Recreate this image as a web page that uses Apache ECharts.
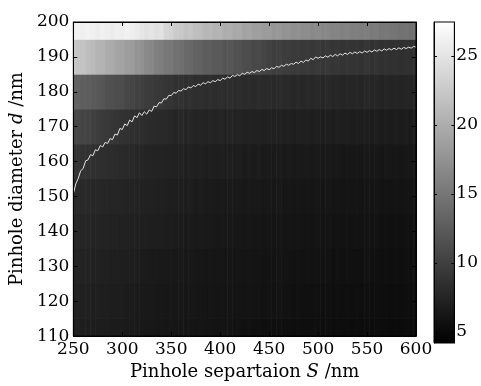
<!DOCTYPE html>
<html><head><meta charset="utf-8">
<script src="https://cdn.jsdelivr.net/npm/echarts@6/dist/echarts.min.js"></script>
<style>html,body{margin:0;padding:0;background:#fff}#c{width:481px;height:386px}</style>
</head><body><div id="c"></div>
<script>
// Pinhole separation S (nm), column centres
const separations = [250,255,260,265,270,275,280,285,290,295,300,305,310,315,320,325,330,335,340,345,
  350,355,360,365,370,375,380,385,390,395,400,405,410,415,420,425,430,435,440,445,
  450,455,460,465,470,475,480,485,490,495,500,505,510,515,520,525,530,535,540,545,
  550,555,560,565,570,575,580,585,590,595,600];
// Pinhole diameter d (nm), row centres
const diameters = [110,120,130,140,150,160,170,180,190,200];

const row110 = [7.0,7.1,6.9,6.9,6.9,6.8,6.8,6.8,6.7,6.7, 6.7,6.6,6.6,6.5,6.5,6.4,6.4,6.3,6.3,6.2,
  6.3,6.2,6.2,6.1,6.1,6.0,6.1,6.0,6.0,5.9, 5.9,5.9,5.9,5.8,5.8,5.7,5.8,5.7,5.7,5.6,
  5.7,5.6,5.7,5.6,5.6,5.5,5.6,5.5,5.5,5.5, 5.5,5.4,5.5,5.4,5.5,5.4,5.4,5.3,5.4,5.3,
  5.4,5.3,5.4,5.3,5.3,5.2,5.3,5.2,5.3,5.2, 5.3];
const row120 = [7.2,7.3,7.1,7.1,7.0,7.0,6.9,6.9,6.8,6.8, 6.8,6.7,6.7,6.6,6.6,6.5,6.5,6.4,6.4,6.3,
  6.4,6.3,6.3,6.2,6.3,6.2,6.2,6.1,6.2,6.1, 6.1,6.0,6.1,6.0,6.0,5.9,6.0,5.9,5.9,5.8,
  5.9,5.8,5.9,5.8,5.8,5.7,5.8,5.7,5.7,5.7, 5.7,5.6,5.7,5.6,5.7,5.6,5.6,5.5,5.6,5.5,
  5.6,5.5,5.6,5.5,5.5,5.4,5.5,5.4,5.5,5.4, 5.5];
const row130 = [7.4,7.5,7.3,7.3,7.2,7.2,7.1,7.1,7.0,7.0, 6.9,6.9,6.8,6.8,6.7,6.7,6.6,6.6,6.5,6.5,
  6.5,6.4,6.5,6.3,6.4,6.3,6.3,6.2,6.3,6.2, 6.2,6.1,6.2,6.1,6.1,6.0,6.1,6.0,6.0,5.9,
  6.0,5.9,6.0,5.9,5.9,5.8,5.9,5.8,5.9,5.8, 5.8,5.8,5.8,5.7,5.8,5.7,5.8,5.7,5.7,5.7,
  5.8,5.7,5.7,5.6,5.7,5.6,5.7,5.6,5.7,5.6, 5.7];
const row140 = [7.7,7.8,7.6,7.6,7.5,7.5,7.4,7.4,7.3,7.3, 7.2,7.2,7.1,7.1,7.0,7.0,6.9,6.9,6.9,6.8,
  6.8,6.7,6.7,6.6,6.7,6.5,6.6,6.5,6.5,6.4, 6.4,6.3,6.4,6.3,6.3,6.2,6.3,6.2,6.2,6.1,
  6.2,6.1,6.2,6.0,6.1,6.0,6.1,6.0,6.0,5.9, 6.0,5.9,6.0,5.9,5.9,5.8,5.9,5.8,5.9,5.8,
  5.9,5.8,5.9,5.7,5.8,5.7,5.8,5.7,5.8,5.7, 5.8];
const row150 = [8.0,8.1,7.9,7.9,7.8,7.8,7.7,7.7,7.6,7.6, 7.5,7.4,7.4,7.3,7.3,7.2,7.2,7.1,7.1,7.0,
  6.9,6.9,6.9,6.8,6.9,6.7,6.8,6.7,6.7,6.6, 6.6,6.5,6.6,6.5,6.5,6.4,6.5,6.4,6.4,6.3,
  6.4,6.3,6.4,6.2,6.3,6.2,6.3,6.2,6.2,6.1, 6.2,6.1,6.2,6.1,6.1,6.0,6.1,6.0,6.1,6.0,
  6.1,6.0,6.1,5.9,6.0,5.9,6.0,5.9,6.0,5.9, 6.0];
const row160 = [8.9,9.0,8.8,8.7,8.6,8.5,8.4,8.3,8.2,8.1, 8.0,7.9,7.9,7.7,7.7,7.5,7.5,7.4,7.4,7.3,
  7.3,7.2,7.3,7.1,7.2,7.0,7.1,6.9,7.0,6.9, 6.9,6.8,6.9,6.8,6.9,6.7,6.8,6.7,6.8,6.6,
  6.7,6.6,6.7,6.5,6.7,6.5,6.6,6.5,6.6,6.4, 6.5,6.4,6.5,6.4,6.5,6.3,6.4,6.3,6.4,6.3,
  6.4,6.3,6.4,6.2,6.4,6.3,6.3,6.2,6.3,6.2, 6.3];
const row170 = [10.6,10.7,10.4,10.3,10.0,9.8,9.6,9.4,9.1,9.0, 8.8,8.7,8.5,8.4,8.3,8.2,8.1,8.0,7.9,7.9,
  7.8,7.6,7.8,7.6,7.7,7.5,7.6,7.5,7.6,7.4, 7.5,7.3,7.5,7.3,7.4,7.2,7.3,7.2,7.3,7.1,
  7.2,7.1,7.2,7.0,7.2,7.0,7.1,7.0,7.1,6.9, 7.0,6.9,7.0,6.8,7.0,6.9,6.9,6.8,6.9,6.8,
  6.8,6.7,6.9,6.7,6.8,6.7,6.8,6.7,6.8,6.6, 6.8];
const row180 = [13.0,13.1,12.8,12.7,12.4,12.2,12.0,11.6,11.5,11.2, 11.1,10.6,10.5,10.1,10.0,9.7,9.6,9.3,9.3,9.0,
  9.0,8.7,8.8,8.5,8.7,8.4,8.5,8.3,8.5,8.2, 8.4,8.2,8.3,8.1,8.3,8.1,8.2,8.0,8.2,8.0,
  8.1,7.9,8.1,7.9,8.0,7.8,8.0,7.8,7.9,7.8, 7.9,7.7,7.9,7.7,7.8,7.6,7.8,7.6,7.8,7.6,
  7.8,7.6,7.7,7.5,7.7,7.5,7.6,7.5,7.6,7.5, 7.6];
const row190 = [22.5,22.1,22.0,21.4,21.2,20.6,20.5,19.9,19.8,19.2, 19.1,18.5,18.4,17.7,17.5,16.8,16.6,15.9,15.7,15.1,
  15.1,14.5,14.3,13.8,13.7,13.2,13.1,12.7,12.7,12.3, 12.3,11.9,12.0,11.6,11.6,11.2,11.2,10.8,10.9,10.5,
  10.1,9.8,10.0,9.7,9.8,9.5,9.6,9.3,9.5,9.2, 9.4,9.1,9.3,9.0,9.2,8.9,9.1,8.9,9.0,8.8,
  9.0,8.7,8.9,8.6,8.8,8.6,8.7,8.5,8.7,8.5, 8.6];
const row200 = [25.9,26.2,26.0,26.3,26.1,25.8,26.2,26.0,25.7,26.1, 25.9,26.3,26.0,25.6,25.2,24.8,25.1,24.6,24.9,23.7,
  23.4,22.7,22.5,22.0,22.2,21.6,21.4,20.9,21.0,20.5, 20.6,20.0,20.1,19.6,19.7,19.1,19.2,18.7,18.8,18.3,
  18.4,17.9,18.1,17.6,17.7,17.2,17.4,17.0,17.1,16.7, 16.9,16.5,16.6,16.2,16.3,15.9,16.1,15.8,15.9,15.6,
  15.7,15.3,15.4,15.0,15.2,14.9,14.9,14.6,14.7,14.4, 14.5];
const rows = [row110,row120,row130,row140,row150,row160,row170,row180,row190,row200];

// White curve (optimum diameter vs separation)
const lineS = [250,252.5,255,257.5,260,262.5,265,267.5,270,272.5,275,277.5,280,282.5,285,287.5,290,292.5,295,297.5,
  300,302.5,305,307.5,310,312.5,315,317.5,320,322.5,325,327.5,330,332.5,335,337.5,340,342.5,345,347.5,
  350,352.5,355,357.5,360,362.5,365,367.5,370,372.5,375,377.5,380,382.5,385,387.5,390,392.5,395,397.5,
  400,402.5,405,407.5,410,412.5,415,417.5,420,422.5,425,427.5,430,432.5,435,437.5,440,442.5,445,447.5,
  450,452.5,455,457.5,460,462.5,465,467.5,470,472.5,475,477.5,480,482.5,485,487.5,490,492.5,495,497.5,
  500,502.5,505,507.5,510,512.5,515,517.5,520,522.5,525,527.5,530,532.5,535,537.5,540,542.5,545,547.5,
  550,552.5,555,557.5,560,562.5,565,567.5,570,572.5,575,577.5,580,582.5,585,587.5,590,592.5,595,597.5,600];
const lineD = [150.8,153.6,155.2,157.4,158.0,160.2,160.5,162.0,161.7,163.4,163.1,164.6,164.2,165.5,165.2,166.6,166.3,167.9,167.6,169.5,
  169.2,170.8,170.3,171.9,171.4,173.1,172.6,174.0,173.2,174.3,173.6,174.8,174.4,175.9,175.7,176.9,176.8,178.0,177.9,179.0,
  178.9,179.8,179.6,180.4,180.2,180.9,180.6,181.4,181.1,181.8,181.5,182.2,181.9,182.6,182.3,182.9,182.6,183.2,182.9,183.5,
  183.2,183.9,183.6,184.3,183.9,184.7,184.4,184.9,184.6,185.3,185.0,185.6,185.3,185.8,185.5,186.1,185.8,186.4,186.1,186.7,
  186.3,186.9,186.6,187.3,187.0,187.6,187.3,187.9,187.6,188.1,187.9,188.5,188.1,188.8,188.4,189.1,188.8,189.6,189.2,190.0,
  189.6,190.0,189.7,190.3,189.9,190.5,190.1,190.7,190.3,190.9,190.5,191.1,190.7,191.3,190.9,191.4,191.0,191.5,191.1,191.7,
  191.3,191.8,191.4,192.0,191.6,192.1,191.7,192.3,191.9,192.4,192.0,192.5,192.1,192.6,192.2,192.7,192.4,192.8,192.5,193.0,192.8];

const colorRange = [4.2, 27.45];
const colorTicks = [5, 10, 15, 20, 25];
const xRange = [250, 600];
const yRange = [110, 200];
const cellHalfW = 2.5, cellHalfH = 5;

const cells = [];
rows.forEach((r, i) => r.forEach((v, j) => cells.push([separations[j], diameters[i], v])));
const linePts = lineS.map((s, k) => [s, lineD[k]]);

const FONT = 'DejaVu Serif';
const chart = echarts.init(document.getElementById('c'));
function axLine() { return {show: true, onZero: false, lineStyle: {color: '#000', width: 1}}; }
function tickIn(len, vals) {
  const t = {show: true, inside: true, length: len, lineStyle: {color: '#000', width: 1}};
  if (vals) t.customValues = vals;
  return t;
}
function lbl(margin) { return {color: '#000', fontFamily: FONT, fontSize: 17, margin: margin}; }
function nameStyle() {
  return {color: '#000', fontFamily: FONT, fontSize: 18,
    rich: {i: {fontStyle: 'italic', fontFamily: FONT, fontSize: 18, color: '#000'}}};
}

chart.setOption({
  animation: false,
  backgroundColor: '#fff',
  grid: [
    {left: 70, top: 22, width: 346, height: 320, show: true, borderColor: '#000', borderWidth: 1,
     backgroundColor: 'transparent', z: 10, zlevel: 1},
    {left: 434, top: 22, width: 26, height: 321, show: true, borderColor: '#000', borderWidth: 1,
     backgroundColor: 'transparent', z: 10, zlevel: 1}
  ],
  xAxis: [
    {type: 'value', gridIndex: 0, min: xRange[0], max: xRange[1], interval: 50, position: 'bottom',
     axisLine: axLine(), axisTick: tickIn(4), splitLine: {show: false}, axisLabel: lbl(5),
     name: 'Pinhole separtaion {i|S} /nm', nameLocation: 'middle', nameGap: 25, nameTextStyle: nameStyle()},
    {type: 'value', gridIndex: 0, min: xRange[0], max: xRange[1], interval: 50, position: 'top',
     axisLine: axLine(), axisTick: tickIn(4), axisLabel: {show: false}, splitLine: {show: false}},
    {type: 'value', gridIndex: 1, min: 0, max: 1, position: 'bottom',
     axisLine: {show: false}, axisTick: {show: false}, axisLabel: {show: false}, splitLine: {show: false}}
  ],
  yAxis: [
    {type: 'value', gridIndex: 0, min: yRange[0], max: yRange[1], interval: 10, position: 'left',
     axisLine: axLine(), axisTick: tickIn(4), splitLine: {show: false}, axisLabel: lbl(4),
     name: 'Pinhole diameter {i|d} /nm', nameLocation: 'middle', nameGap: 41, nameTextStyle: nameStyle()},
    {type: 'value', gridIndex: 0, min: yRange[0], max: yRange[1], interval: 10, position: 'right',
     axisLine: axLine(), axisTick: tickIn(4), axisLabel: {show: false}, splitLine: {show: false}},
    {type: 'value', gridIndex: 1, min: colorRange[0], max: colorRange[1], position: 'right',
     axisLine: axLine(), splitLine: {show: false}, axisTick: tickIn(3, colorTicks),
     axisLabel: Object.assign(lbl(2), {customValues: colorTicks})},
    {type: 'value', gridIndex: 1, min: colorRange[0], max: colorRange[1], position: 'left',
     axisLine: axLine(), splitLine: {show: false}, axisTick: tickIn(3, colorTicks), axisLabel: {show: false}}
  ],
  visualMap: {
    type: 'continuous', show: false, seriesIndex: 0, dimension: 2,
    min: colorRange[0], max: colorRange[1],
    inRange: {color: ['#000000', '#ffffff']}
  },
  series: [
    {
      type: 'custom', xAxisIndex: 0, yAxisIndex: 0, data: cells, silent: true, z: -2,
      renderItem: function (params, api) {
        const s = api.value(0), d = api.value(1);
        const p0 = api.coord([s - cellHalfW, d + cellHalfH]);
        const p1 = api.coord([s + cellHalfW, d - cellHalfH]);
        const cs = params.coordSys;
        const rect = echarts.graphic.clipRectByRect(
          {x: p0[0] - 0.3, y: p0[1] - 0.3, width: p1[0] - p0[0] + 0.6, height: p1[1] - p0[1] + 0.6},
          {x: cs.x, y: cs.y, width: cs.width, height: cs.height});
        if (!rect) return;
        return {type: 'rect', shape: rect, style: {fill: api.visual('color')}};
      }
    },
    {
      type: 'line', xAxisIndex: 0, yAxisIndex: 0, data: linePts, showSymbol: false, silent: true,
      lineStyle: {color: '#e4e4e4', width: 1}, z: -1
    },
    {
      type: 'custom', xAxisIndex: 2, yAxisIndex: 2, data: [[0, colorRange[0], colorRange[1]]], silent: true, z: -2,
      renderItem: function (params, api) {
        const top = api.coord([0, api.value(2)]);
        const bot = api.coord([1, api.value(1)]);
        return {type: 'rect',
          shape: {x: top[0], y: top[1], width: bot[0] - top[0], height: bot[1] - top[1]},
          style: {fill: new echarts.graphic.LinearGradient(0, 0, 0, 1,
            [{offset: 0, color: '#ffffff'}, {offset: 1, color: '#000000'}])}};
      }
    }
  ]
});
</script>
</body></html>
